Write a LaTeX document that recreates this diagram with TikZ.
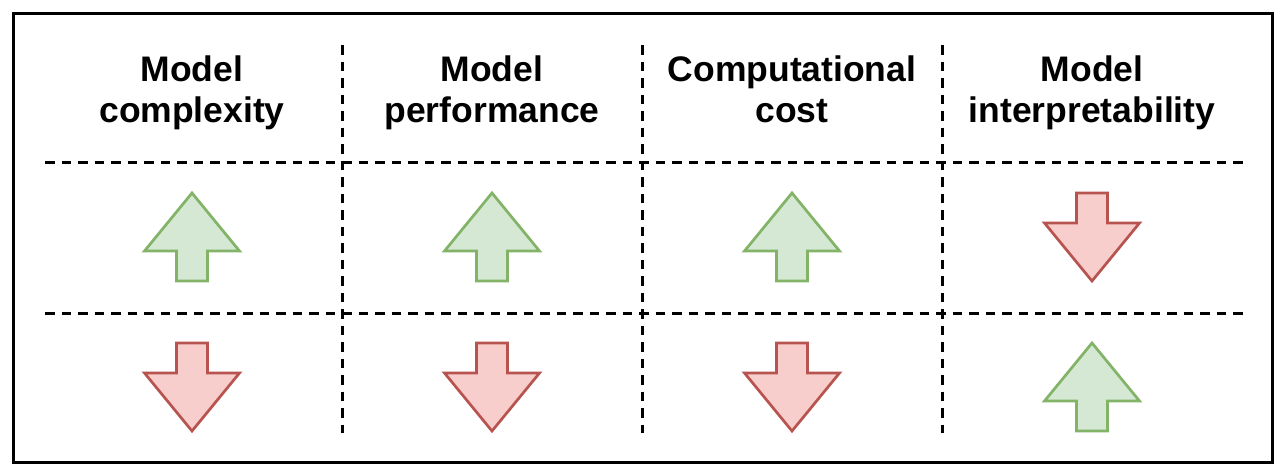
\documentclass[tikz,border=0pt]{standalone}
\usepackage{fontspec}
\setmainfont{Liberation Sans}
\definecolor{upfill}{HTML}{D5E8D4}
\definecolor{updraw}{HTML}{82B366}
\definecolor{dnfill}{HTML}{F8CECC}
\definecolor{dndraw}{HTML}{B85450}
\tikzset{
  frame/.style={draw=black, line width=3pt},
  divider/.style={draw=black, line width=3pt, dash pattern=on 9.5pt off 7pt},
  header/.style={font=\fontsize{35.5}{41}\selectfont\bfseries, align=center, anchor=base, inner sep=0pt},
  uparrowstyle/.style={fill=upfill, draw=updraw, line width=2.7pt, line join=miter},
  downarrowstyle/.style={fill=dnfill, draw=dndraw, line width=2.7pt, line join=miter},
  pics/uparr/.style={code={
    \path[uparrowstyle] (0,-44) -- (47.5,14) -- (15.5,14) -- (15.5,44) -- (-15.5,44) -- (-15.5,14) -- (-47.5,14) -- cycle;
  }},
  pics/downarr/.style={code={
    \path[downarrowstyle] (0,44) -- (47.5,-14) -- (15.5,-14) -- (15.5,-44) -- (-15.5,-44) -- (-15.5,-14) -- (-47.5,-14) -- cycle;
  }},
}
\begin{document}
\begin{tikzpicture}[x=1pt, y=-1pt]
\useasboundingbox (0,0) rectangle (1284,474);
\fill[white] (0,0) rectangle (1284,474);
\draw[frame] (13,13) rectangle (1272,462);
% dividers
\coordinate (h1a) at (45,162); \coordinate (h1b) at (1243,162);
\coordinate (h2a) at (45,313); \coordinate (h2b) at (1243,313);
\coordinate (v1a) at (342,45); \coordinate (v1b) at (342,433);
\coordinate (v2a) at (642,45); \coordinate (v2b) at (642,433);
\coordinate (v3a) at (942,45); \coordinate (v3b) at (942,433);
\draw[divider] (h1a) -- (h1b);
\draw[divider] (h2a) -- (h2b);
\draw[divider] (v1a) -- (v1b);
\draw[divider] (v2a) -- (v2b);
\draw[divider] (v3a) -- (v3b);
% headers
\node[header] (t1) at (192,122) {Model\\complexity};
\node[header] (t2) at (492,122) {Model\\performance};
\node[header] (t3) at (792,122) {Computational\\cost};
\node[header] (t4) at (1092,122) {Model\\interpretability};
% arrows
\pic (a11) at (192,237) {uparr};
\pic (a12) at (492,237) {uparr};
\pic (a13) at (792,237) {uparr};
\pic (a14) at (1092,237) {downarr};
\pic (a21) at (192,387) {downarr};
\pic (a22) at (492,387) {downarr};
\pic (a23) at (792,387) {downarr};
\pic (a24) at (1092,387) {uparr};
\end{tikzpicture}
\end{document}
